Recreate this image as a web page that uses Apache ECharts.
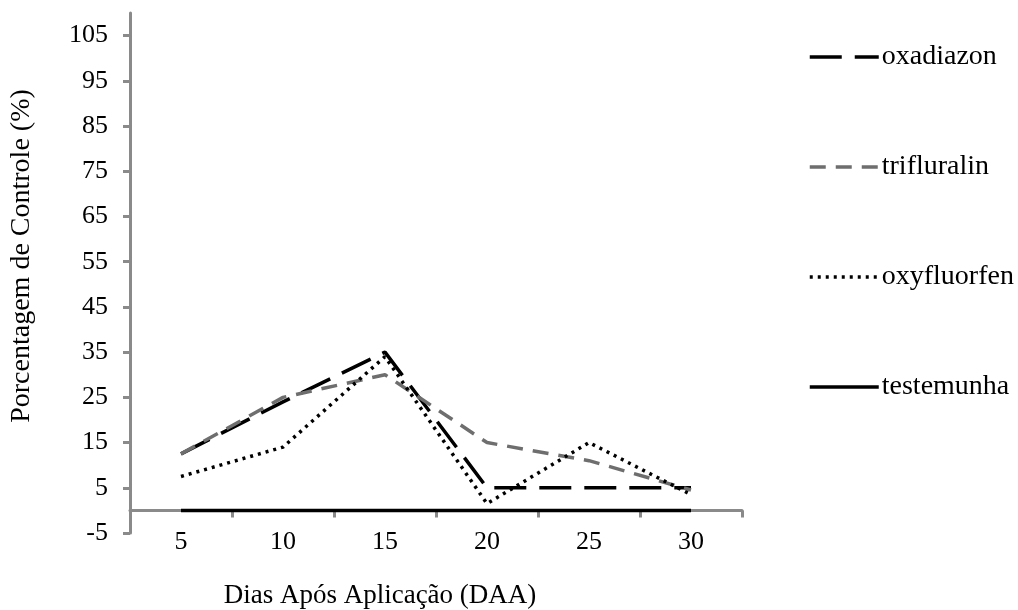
<!DOCTYPE html>
<html>
<head>
<meta charset="utf-8">
<script src="https://cdn.jsdelivr.net/npm/echarts@6/dist/echarts.min.js"></script>
<style>
  html, body { margin: 0; padding: 0; background: #fff; }
  #chart { width: 1018px; height: 610px; }
</style>
</head>
<body>
<div id="chart"></div>
<script>
// dias após aplicação
var days = ['5', '10', '15', '20', '25', '30'];
// porcentagem de controle por herbicida
var oxadiazon   = [12.5, 24, 35, 5, 5, 5];
var trifluralin = [12.5, 25, 30, 15, 11, 4.5];
var oxyfluorfen = [7.5, 14, 34, 1.5, 15, 3.5];
var testemunha  = [0, 0, 0, 0, 0, 0];
var yTicks = [-5, 5, 15, 25, 35, 45, 55, 65, 75, 85, 95, 105];

var serif = '"Liberation Serif", "DejaVu Serif", serif';
var axisGray = '#8a8a8a';

var chart = echarts.init(document.getElementById('chart'));
var option = {
  animation: false,
  backgroundColor: '#fff',
  textStyle: { fontFamily: serif, color: '#000' },
  grid: { left: 130, right: 276, top: 13, bottom: 77 },
  legend: {
    orient: 'vertical',
    left: 803,
    top: 37,
    itemWidth: 69,
    itemHeight: 14,
    itemGap: 80,
    // sem símbolo no ícone, só a linha
    itemStyle: { opacity: 0 },
    lineStyle: { width: 3.5 },
    textStyle: { fontFamily: serif, fontSize: 28, color: '#000', lineHeight: 30, padding: [0, 0, 0, -2] },
    data: ['oxadiazon', 'trifluralin', 'oxyfluorfen', 'testemunha']
  },
  xAxis: {
    type: 'category',
    data: days,
    boundaryGap: true,
    axisLine: { onZero: true, lineStyle: { color: axisGray, width: 3 } },
    axisTick: { show: true, length: 7, lineStyle: { color: axisGray, width: 3 } },
    axisLabel: { fontFamily: serif, fontSize: 26, color: '#000', margin: -4 },
    splitLine: { show: false }
  },
  yAxis: {
    type: 'value',
    min: -5,
    max: 110,
    axisLine: { show: true, lineStyle: { color: axisGray, width: 3 } },
    axisTick: { show: true, length: 7, customValues: yTicks, lineStyle: { color: axisGray, width: 3 } },
    axisLabel: { fontFamily: serif, fontSize: 26, color: '#000', margin: 22, customValues: yTicks },
    splitLine: { show: false }
  },
  graphic: [
    {
      type: 'text',
      x: 22, y: 256,
      rotation: Math.PI / 2,
      style: {
        text: 'Porcentagem de Controle (%)',
        font: '28px ' + serif,
        fill: '#000',
        align: 'center',
        verticalAlign: 'middle'
      }
    },
    {
      type: 'text',
      x: 380, y: 596,
      style: {
        text: 'Dias Após Aplicação (DAA)',
        font: '27px ' + serif,
        fill: '#000',
        align: 'center',
        verticalAlign: 'middle'
      }
    }
  ],
  series: [
    {
      name: 'oxadiazon', type: 'line', data: oxadiazon,
      symbol: 'none', color: '#000',
      lineStyle: { color: '#000', width: 3.5, type: [32, 13] }
    },
    {
      name: 'trifluralin', type: 'line', data: trifluralin,
      symbol: 'none', color: '#6e6e6e',
      lineStyle: { color: '#6e6e6e', width: 3.5, type: [16, 10] }
    },
    {
      name: 'oxyfluorfen', type: 'line', data: oxyfluorfen,
      symbol: 'none', color: '#000',
      lineStyle: { color: '#000', width: 3.5, type: [3, 5] }
    },
    {
      name: 'testemunha', type: 'line', data: testemunha,
      symbol: 'none', color: '#000',
      lineStyle: { color: '#000', width: 3.5, type: 'solid' }
    }
  ]
};
chart.setOption(option);
</script>
</body>
</html>
